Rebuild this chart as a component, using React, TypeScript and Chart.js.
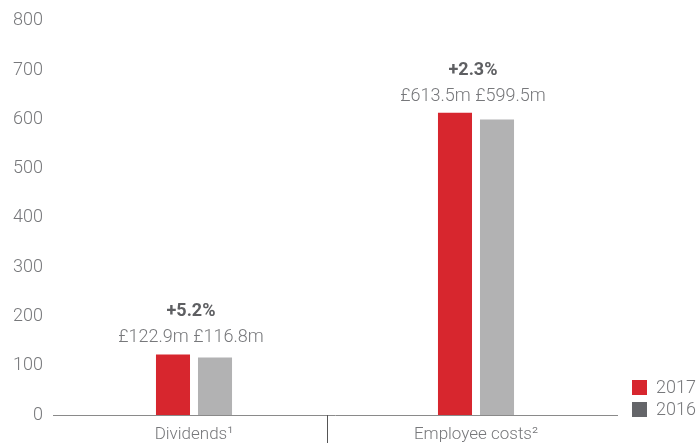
import React, { useEffect, useRef } from "react";
import { Chart, registerables } from "chart.js";

Chart.register(...registerables);

const categories = ["Dividends¹", "Employee costs²"];
const series2017 = [122.9, 613.5];
const series2016 = [116.8, 599.5];
const valueLabels2017 = ["£122.9m", "£613.5m"];
const valueLabels2016 = ["£116.8m", "£599.5m"];
const changeLabels = ["+5.2%", "+2.3%"];
const legendLabels = ["2017", "2016"];

const RED = "#d7262e";
const LIGHT_GREY = "#b2b2b3";
const DARK_GREY = "#646569";
const TEXT = "#77787b";
const FONT = "Roboto";

const annotate = {
  id: "annotate",
  afterDatasetsDraw(chart: any) {
    const { ctx, chartArea } = chart;
    const m0 = chart.getDatasetMeta(0);
    const m1 = chart.getDatasetMeta(1);
    ctx.save();
    categories.forEach((_, i) => {
      const a = m0.data[i];
      const b = m1.data[i];
      const cx = (a.x + b.x) / 2 - 3;
      ctx.textAlign = "center";
      ctx.textBaseline = "alphabetic";
      ctx.fillStyle = TEXT;
      ctx.font = `300 18px ${FONT}`;
      ctx.fillText(valueLabels2017[i] + " " + valueLabels2016[i], cx, a.y - 12);
      ctx.fillStyle = "#5e5f62";
      ctx.font = `bold 18px ${FONT}`;
      ctx.fillText(changeLabels[i], cx, a.y - 38);
    });
    // separator between categories
    const xs = chart.scales.x;
    const sepX = (xs.getPixelForValue(0) + xs.getPixelForValue(1)) / 2 - 8;
    ctx.strokeStyle = "#555";
    ctx.lineWidth = 1;
    ctx.beginPath();
    ctx.moveTo(Math.round(sepX) + 0.5, chartArea.bottom);
    ctx.lineTo(Math.round(sepX) + 0.5, chart.height);
    ctx.stroke();
    // legend
    const lx = chartArea.right + 15;
    const colors = [RED, DARK_GREY];
    legendLabels.forEach((lab, j) => {
      const y = chartArea.bottom - 35 + j * 22;
      ctx.fillStyle = colors[j];
      ctx.fillRect(lx, y, 15, 15);
      ctx.fillStyle = TEXT;
      ctx.font = `300 18px ${FONT}`;
      ctx.textAlign = "left";
      ctx.textBaseline = "middle";
      ctx.fillText(lab, lx + 24, y + 8);
    });
    ctx.restore();
  },
};

export default function App() {
  const ref = useRef<HTMLCanvasElement>(null);
  useEffect(() => {
    const chart = new Chart(ref.current!, {
      type: "bar",
      data: {
        labels: categories,
        datasets: [
          { label: legendLabels[0], data: series2017, backgroundColor: RED },
          { label: legendLabels[1], data: series2016, backgroundColor: LIGHT_GREY },
        ],
      },
      options: {
        animation: false,
        responsive: false,
        maintainAspectRatio: false,
        layout: { padding: { top: 14, right: 80, left: 0, bottom: 0 } },
        datasets: { bar: { categoryPercentage: 0.298, barPercentage: 0.81 } },
        plugins: { legend: { display: false }, tooltip: { enabled: false } },
        scales: {
          x: {
            grid: { display: false, drawTicks: false },
            border: { display: true, color: "#8a8a8a", width: 1 },
            ticks: { color: TEXT, font: { family: FONT, size: 17, weight: "300" }, padding: 10 },
            afterFit(s: any) { s.height = 28; },
          },
          y: {
            min: 0,
            max: 800,
            grid: { display: false, drawTicks: false },
            border: { display: false },
            ticks: { stepSize: 100, color: TEXT, font: { family: FONT, size: 18, weight: "300" }, padding: 10 },
            afterFit(s: any) { s.width = 53; },
          },
        },
      },
      plugins: [annotate],
    });
    return () => chart.destroy();
  }, []);
  return (
    <div style={{ position: "fixed", left: 0, top: 0, width: 697, height: 443, background: "#fff" }}>
      <canvas ref={ref} width={697} height={443} />
    </div>
  );
}
